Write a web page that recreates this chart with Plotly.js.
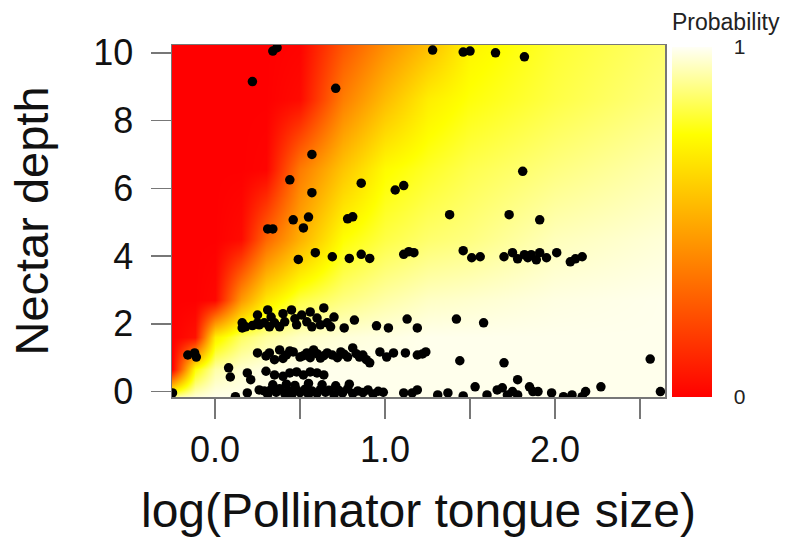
<!DOCTYPE html>
<html>
<head>
<meta charset="utf-8">
<script src="https://cdn.plot.ly/plotly-3.0.1.min.js"></script>
<style>html,body{margin:0;padding:0;background:#fff;}#chart{width:793px;height:559px;}</style>
</head>
<body>
<div id="chart"></div>
<script>
// Probability surface (rows = nectar depth, cols = log tongue size)
var gridX = [-0.253, -0.12, 0.0, 0.15, 0.3, 0.5, 0.75, 1.0, 1.25, 1.5, 2.0, 2.647];
var gridY = [-0.16, 0.68, 1.6, 2.71, 4.51, 6.58, 8.64, 10.23];
var probRow0 = [0.92, 0.97, 0.99, 0.99, 0.99, 0.99, 0.99, 0.99, 0.99, 0.99, 0.99, 0.99];
var probRow1 = [0.0, 0.75, 0.92, 0.96, 0.98, 0.99, 0.99, 0.99, 0.99, 0.99, 0.99, 0.99];
var probRow2 = [0.0, 0.05, 0.70, 0.85, 0.91, 0.95, 0.97, 0.98, 0.99, 0.99, 0.99, 0.99];
var probRow3 = [0.0, 0.0, 0.02, 0.45, 0.68, 0.82, 0.88, 0.92, 0.95, 0.96, 0.98, 0.99];
var probRow4 = [0.0, 0.0, 0.0, 0.03, 0.30, 0.52, 0.75, 0.82, 0.86, 0.88, 0.94, 0.97];
var probRow5 = [0.0, 0.0, 0.0, 0.0, 0.01, 0.36, 0.58, 0.74, 0.79, 0.83, 0.88, 0.93];
var probRow6 = [0.0, 0.0, 0.0, 0.0, 0.0, 0.03, 0.37, 0.55, 0.70, 0.76, 0.82, 0.88];
var probRow7 = [0.0, 0.0, 0.0, 0.0, 0.0, 0.01, 0.25, 0.42, 0.56, 0.72, 0.80, 0.86];

// Observed plant-pollinator pairs
var tongueX = [
  0.34, 0.365, 0.22, 0.71, 0.57, 0.44, 0.57, 0.86, 1.06, 1.11,
  1.28, 1.46, 1.50, 1.65, 1.82, 1.81,
  0.31, 0.34, 0.46, 0.55, 0.52, 0.78, 0.81, 1.38, 1.73, 1.91,
  0.49, 0.59, 0.69, 0.79, 0.86, 0.91, 1.11, 1.14, 1.17, 1.46, 1.51, 1.56, 1.70, 1.75, 1.78, 1.82, 1.84, 1.86, 1.89, 1.91, 1.95, 2.01, 2.09, 2.12, 2.16,
  0.16, 0.18, 0.16, 0.25, 0.31, 0.25, 0.26, 0.29, 0.32, 0.35, 0.38, 0.41, 0.45, 0.48, 0.51, 0.54, 0.57, 0.60, 0.64, 0.66, 0.68, 0.76, 0.82, 0.95, 1.02, 1.13, 1.19, 1.42, 1.58,
  0.40, 0.56, 0.70, 0.47, 0.33, 0.22, 0.62,
  -0.16, -0.12, -0.11,
  0.25, 0.32, 0.35, 0.38, 0.42, 0.46, 0.50, 0.54, 0.58, 0.62, 0.66, 0.69, 0.74, 0.78, 0.81, 0.85, 0.89, 0.91, 0.97, 1.01, 1.05, 1.12, 1.19, 1.22, 1.24, 1.44, 1.70, 2.56,
  0.30, 0.40, 0.44, 0.52, 0.56, 0.60, 0.64, 0.72, 0.76, 0.83, 0.87,
  0.08, 0.09, 0.19, 0.21, 0.35, 0.44, 0.48, 0.52, 0.56, 0.60, 0.64, 0.40, 0.30,
  -0.25, 0.12, 0.19, 0.26, 0.29, 0.31, 0.33, 0.36, 0.38, 0.41, 0.43, 0.45, 0.48, 0.50, 0.53, 0.55, 0.57, 0.60, 0.62, 0.65, 0.67, 0.70, 0.73, 0.75, 0.78, 0.81, 0.84, 0.87, 0.90, 0.93, 0.96, 0.99,
  0.34, 0.42, 0.47, 0.55, 0.63, 0.71, 0.79,
  1.11, 1.16, 1.19, 1.31, 1.37, 1.46, 1.53, 1.60, 1.66, 1.69, 1.72, 1.78, 1.75, 1.78, 1.85, 1.87, 1.90, 1.98, 2.05, 2.10, 2.16, 2.18, 2.27, 2.62
];
var depthY = [
  10.05, 10.15, 9.15, 8.95, 7.00, 6.25, 5.87, 6.15, 5.95, 6.08,
  10.08, 10.02, 10.05, 10.00, 9.88, 6.50,
  4.80, 4.80, 5.07, 5.15, 4.83, 5.10, 5.16, 5.22, 5.22, 5.07,
  3.90, 4.10, 3.98, 3.93, 4.05, 3.93, 4.05, 4.13, 4.10, 4.16, 3.95, 3.98, 3.98, 4.10, 3.92, 4.04, 3.95, 4.04, 3.89, 4.10, 3.95, 4.10, 3.83, 3.92, 3.98,
  2.03, 1.91, 1.88, 2.26, 2.41, 2.03, 1.97, 2.03, 1.91, 2.03, 1.91, 2.06, 2.41, 1.97, 2.26, 2.06, 1.91, 2.17, 2.47, 2.03, 1.91, 1.88, 2.11, 1.94, 1.88, 2.14, 1.88, 2.14, 2.03,
  2.30, 2.35, 2.20, 2.15, 2.20, 1.95, 1.97,
  1.08, 1.14, 1.02,
  1.14, 1.14, 0.94, 1.23, 1.08, 1.17, 1.02, 1.14, 1.23, 0.99, 1.14, 1.08, 1.17, 1.02, 1.29, 1.02, 0.94, 0.85, 1.17, 1.02, 1.14, 1.14, 1.08, 1.11, 1.17, 0.91, 0.85, 0.96,
  1.05, 0.98, 1.20, 1.06, 1.00, 1.12, 1.06, 1.00, 1.10, 1.12, 1.08,
  0.70, 0.43, 0.55, 0.35, 0.49, 0.55, 0.58, 0.49, 0.58, 0.55, 0.49, 0.45, 0.60,
  -0.04, -0.15, -0.04, 0.05, 0.02, -0.08, 0.06, -0.02, 0.08, -0.06, 0.03, -0.10, 0.05, -0.03, 0.07, -0.08, 0.02, -0.05, 0.06, -0.02, 0.04, -0.09, 0.03, -0.04, 0.08, -0.06, 0.02, -0.03, 0.05, -0.07, 0.01, -0.02,
  0.20, 0.22, 0.18, 0.24, 0.20, 0.17, 0.22,
  -0.04, -0.04, 0.05, -0.10, -0.04, -0.13, 0.14, -0.10, 0.05, 0.11, -0.10, 0.35, 0.00, -0.10, 0.14, 0.00, 0.00, -0.04, -0.15, -0.10, -0.15, 0.00, 0.14, 0.00
];

var probZ = [probRow0, probRow1, probRow2, probRow3, probRow4, probRow5, probRow6, probRow7];

var heat = {
  type: 'heatmap',
  x: gridX, y: gridY, z: probZ,
  zmin: 0, zmax: 1, zsmooth: 'best',
  colorscale: [[0, '#FF0000'], [0.75, '#FFFF00'], [1, '#FFFFF6']],
  hoverinfo: 'skip',
  colorbar: {
    x: 1.014, xanchor: 'left', xpad: 0,
    y: 0, yanchor: 'bottom', ypad: 0,
    thickness: 40, thicknessmode: 'pixels',
    len: 350, lenmode: 'pixels',
    outlinewidth: 0,
    tickvals: [0, 1], ticktext: ['0', '1'],
    ticks: 'outside', ticklen: 18, tickcolor: 'rgba(0,0,0,0)',
    tickfont: {size: 21, color: '#222'}
  }
};

var pts = {
  type: 'scatter', mode: 'markers',
  x: tongueX, y: depthY,
  marker: {color: '#000', size: 9.5},
  showlegend: false
};

var layout = {
  width: 793, height: 559,
  margin: {l: 172, r: 128, t: 45, b: 162},
  paper_bgcolor: '#fff', plot_bgcolor: '#fff',
  font: {family: '"Liberation Sans", Arial, sans-serif', color: '#000'},
  showlegend: false,
  xaxis: {
    range: [-0.253, 2.647], tickvals: [0, 0.5, 1, 1.5, 2, 2.5],
    ticktext: ['0.0', '', '1.0', '', '2.0', ''],
    ticks: 'outside', ticklen: 20, tickwidth: 1.5, tickcolor: '#777',
    showline: true, mirror: true, linecolor: '#777', linewidth: 1.5,
    showgrid: false, zeroline: false,
    tickfont: {size: 36, color: '#111'}, ticklabelstandoff: 0,
    title: {text: 'log(Pollinator tongue size)', font: {size: 48, color: '#111'}, standoff: 24}
  },
  yaxis: {
    range: [-0.16, 10.23], tickvals: [0, 2, 4, 6, 8, 10],
    ticks: 'outside', ticklen: 20, tickwidth: 1.5, tickcolor: '#777',
    showline: true, mirror: true, linecolor: '#777', linewidth: 1.5,
    showgrid: false, zeroline: false,
    tickfont: {size: 36, color: '#111'}, ticklabelstandoff: 10,
    title: {text: 'Nectar depth', font: {size: 47, color: '#111'}, standoff: 30}
  },
  annotations: [{
    text: 'Probability', xref: 'paper', yref: 'paper',
    x: 1.0101, xanchor: 'left', y: 1.022, yanchor: 'bottom',
    showarrow: false, font: {size: 23, color: '#222'}
  }]
};

Plotly.newPlot('chart', [heat, pts], layout, {displayModeBar: false, staticPlot: true});
</script>
</body>
</html>
